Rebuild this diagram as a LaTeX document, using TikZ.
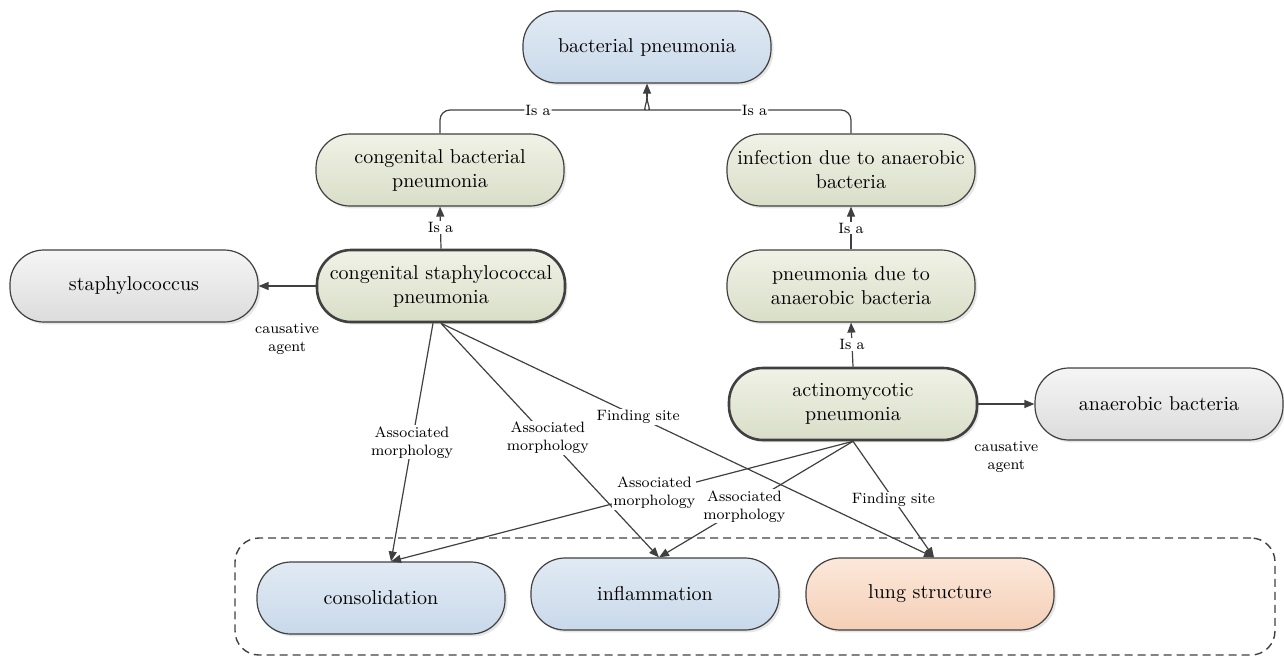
\documentclass[tikz,border=0pt]{standalone}
\usepackage{xcolor}
\usetikzlibrary{arrows.meta,shadows}

\definecolor{lineclr}{HTML}{404040}
\definecolor{bluetop}{HTML}{E1EAF4}
\definecolor{bluebot}{HTML}{C9D9EA}
\definecolor{greentop}{HTML}{F0F2E6}
\definecolor{greenbot}{HTML}{D9DEC8}
\definecolor{graytop}{HTML}{F5F5F5}
\definecolor{graybot}{HTML}{DCDCDC}
\definecolor{orangetop}{HTML}{FCE8DA}
\definecolor{orangebot}{HTML}{F4CFB6}

\begin{document}
\begin{tikzpicture}[x=0.5pt,y=-0.5pt,
    box/.style={rectangle, rounded corners=17pt, draw=lineclr, line width=0.6pt,
        minimum width=124pt, minimum height=36pt, align=center,
        inner xsep=2pt,
        drop shadow={shadow xshift=1.2pt, shadow yshift=-1.2pt, opacity=0.2}},
    bluebox/.style={box, top color=bluetop, bottom color=bluebot},
    greenbox/.style={box, top color=greentop, bottom color=greenbot},
    graybox/.style={box, top color=graytop, bottom color=graybot},
    orangebox/.style={box, top color=orangetop, bottom color=orangebot},
    boldbox/.style={line width=1.3pt},
    con/.style={draw=lineclr, line width=0.6pt},
    arr/.style={con, -{Triangle[length=5pt,width=4pt]}},
    lbl/.style={fill=white, font=\fontsize{7.5}{9}\selectfont, align=center, inner sep=0.5pt},
    grpbox/.style={draw=lineclr, line width=0.7pt, dash pattern=on 4pt off 2.5pt,
        rounded corners=12pt, minimum width=520pt, minimum height=58.5pt}
]
    \useasboundingbox (0,0) rectangle (1284,659);

    % 虚线分组框
    \node (grp) [grpbox] at (755,596.5) {};

    % 概念节点
    \node (bp) [bluebox] at (647,47) {bacterial pneumonia};
    \node (cbp) [greenbox] at (440,170) {congenital bacterial\\pneumonia};
    \node (iab) [greenbox] at (851,170) {infection due to anaerobic\\bacteria};
    \node (csp) [greenbox,boldbox] at (441,286) {congenital staphylococcal\\pneumonia};
    \node (staph) [graybox] at (134,286) {staphylococcus};
    \node (pdab) [greenbox] at (851,286) {pneumonia due to\\anaerobic bacteria};
    \node (actino) [greenbox,boldbox] at (853,404) {actinomycotic\\pneumonia};
    \node (anb) [graybox] at (1159,404) {anaerobic bacteria};
    \node (cons) [bluebox] at (381,598) {consolidation};
    \node (infl) [bluebox] at (655,594) {inflammation};
    \node (lung) [orangebox] at (930,594) {lung structure};

    % 顶部 Is a 汇合
    \coordinate (jn) at (647,97);
    \draw[con, rounded corners=5pt] (cbp.north) |- node (isa1) [lbl, pos=0.75] {Is a} (636,110) to[out=0,in=-90] (jn);
    \draw[con, rounded corners=5pt] (iab.north) |- node (isa2) [lbl, pos=0.75] {Is a} (658,110) to[out=180,in=-90] (jn);
    \draw[arr] (jn) -- (bp.south);

    % Is a 连线
    \draw[arr] (csp.north) -- node (isa3) [lbl] {Is a} (cbp.south);
    \draw[arr] (pdab.north) -- node (isa4) [lbl] {Is a} (iab.south);
    \draw[arr] (actino.north) -- node (isa5) [lbl] {Is a} (pdab.south);

    % causative agent
    \draw[arr] (csp.west) -- node (ca1) [lbl, below=18pt] {causative\\agent} (staph.east);
    \draw[arr] (actino.east) -- node (ca2) [lbl, below=18pt] {causative\\agent} (anb.west);

    % 指向底部的连线
    \draw[arr] ([xshift=-4pt]csp.south) -- node (am1) [lbl, pos=0.5] {Associated\\morphology} ([xshift=5pt]cons.north);
    \draw[arr] (csp.south) -- node (am2) [lbl, pos=0.49] {Associated\\morphology} ([xshift=2pt]infl.north);
    \draw[arr] (csp.south) -- node (fs1) [lbl, pos=0.4] {Finding site} ([xshift=2pt]lung.north);
    \draw[arr] (actino.south) -- node (am3) [lbl, pos=0.43] {Associated\\morphology} ([xshift=5pt]cons.north);
    \draw[arr] (actino.south) -- node (am4) [lbl, pos=0.56] {Associated\\morphology} ([xshift=2pt]infl.north);
    \draw[arr] (actino.south) -- node (fs2) [lbl, pos=0.5] {Finding site} ([xshift=2pt]lung.north);

\end{tikzpicture}
\end{document}
